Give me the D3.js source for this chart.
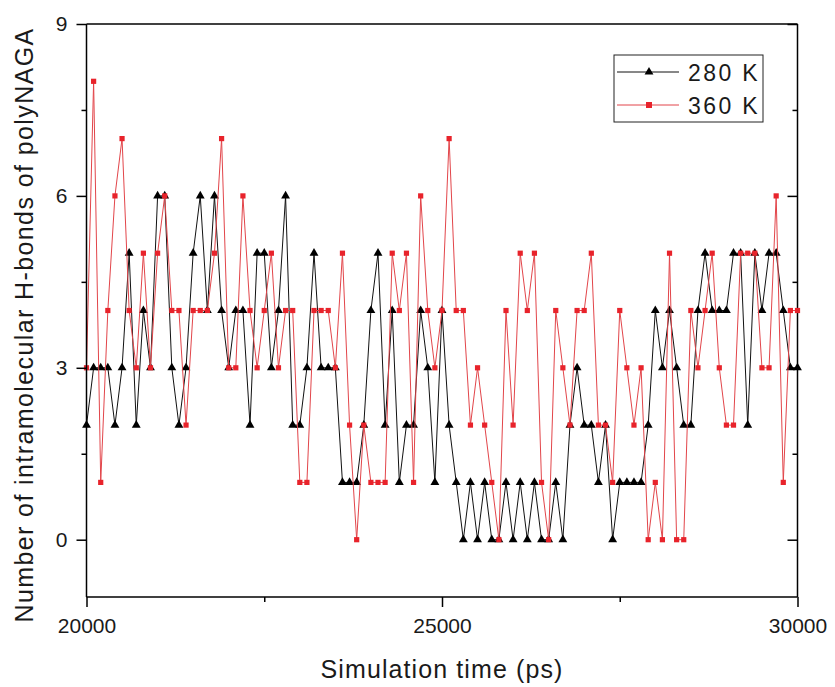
<!DOCTYPE html>
<html>
<head>
<meta charset="utf-8">
<script src="https://cdn.jsdelivr.net/npm/d3@7"></script>
<style>
  html, body { margin: 0; padding: 0; background: #fff; }
  svg { display: block; font-family: "Liberation Sans", Arial, sans-serif; }
  .axis path, .axis line { stroke: #000; stroke-width: 1.5; }
  .axis text { font-size: 21px; fill: #1a1a1a; font-family: "Liberation Sans", Arial, sans-serif; }
</style>
</head>
<body>
<svg id="chart" width="835" height="687"></svg>
<script>
// H-bond count vs simulation time, two temperatures, sampled every 100 ps.

const TIME_START = 20000;
const TIME_STEP = 100;

const SERIES_NAMES = ["280 K", "360 K"];

const HB_280 = [
  2, 3, 3, 3, 2, 3, 5, 2, 4, 3, 6, 6, 3, 2, 3, 5, 6, 4, 6, 4,
  3, 4, 4, 2, 5, 5, 3, 4, 6, 2, 2, 3, 5, 3, 3, 3, 1, 1, 1, 2,
  4, 5, 2, 4, 1, 2, 2, 4, 3, 1, 4, 2, 1, 0, 1, 0, 1, 0, 0, 1,
  0, 1, 0, 1, 0, 0, 1, 0, 2, 3, 2, 2, 1, 2, 0, 1, 1, 1, 1, 2,
  4, 3, 4, 3, 2, 2, 4, 5, 4, 4, 4, 5, 5, 2, 5, 4, 5, 5, 4, 3,
  3
];

const HB_360 = [
  3, 8, 1, 4, 6, 7, 4, 3, 5, 3, 5, 6, 4, 4, 2, 4, 4, 4, 5, 7,
  3, 3, 6, 4, 3, 4, 5, 3, 4, 4, 1, 1, 4, 4, 4, 3, 5, 2, 0, 2,
  1, 1, 1, 5, 4, 5, 1, 6, 4, 3, 4, 7, 4, 4, 2, 3, 2, 1, 0, 4,
  2, 5, 4, 5, 1, 0, 4, 3, 2, 4, 4, 5, 2, 2, 1, 4, 3, 2, 3, 0,
  1, 0, 5, 0, 0, 4, 3, 4, 5, 3, 2, 2, 5, 5, 5, 3, 3, 6, 1, 4,
  4
];

const X_TICKS = [20000, 25000, 30000];
const X_MINOR = [22500, 27500];
const Y_TICKS = [0, 3, 6, 9];
const Y_MINOR = [1.5, 4.5, 7.5];

const X_TITLE = "Simulation time (ps)";
const Y_TITLE = "Number of intramolecular H-bonds of polyNAGA";

const COLOR_280 = "#000000";
const COLOR_360 = "#e8232b";
const LINE_360 = "#e2454a";

const plot = { left: 86.5, right: 797.5, top: 24, bottom: 597 };

const svg = d3.select("#chart");

const x = d3.scaleLinear().domain([20000, 30000]).range([plot.left, plot.right]);
const y = d3.scaleLinear().domain([-1, 9]).range([plot.bottom, plot.top]);

const toPoints = vals => vals.map((v, i) => ({ t: TIME_START + i * TIME_STEP, v }));
const series = [
  { name: SERIES_NAMES[0], pts: toPoints(HB_280), color: COLOR_280, line: "#111", shape: "tri" },
  { name: SERIES_NAMES[1], pts: toPoints(HB_360), color: COLOR_360, line: LINE_360, shape: "sq" }
];

// frame (top + right)
svg.append("line")
  .attr("x1", plot.left).attr("x2", plot.right)
  .attr("y1", plot.top).attr("y2", plot.top)
  .attr("stroke", "#000").attr("stroke-width", 1.5);
svg.append("line")
  .attr("x1", plot.right).attr("x2", plot.right)
  .attr("y1", plot.top).attr("y2", plot.bottom)
  .attr("stroke", "#000").attr("stroke-width", 1.5);

// right axis ticks point inward
svg.append("g")
  .attr("class", "axis")
  .attr("transform", `translate(${plot.right},0)`)
  .call(d3.axisRight(y).tickValues(Y_TICKS).tickSize(-10).tickSizeOuter(0).tickFormat(""))
  .call(g => g.select(".domain").remove());
svg.append("g")
  .attr("class", "axis")
  .attr("transform", `translate(${plot.right},0)`)
  .call(d3.axisRight(y).tickValues(Y_MINOR).tickSize(-5).tickSizeOuter(0).tickFormat(""))
  .call(g => g.select(".domain").remove());

// series
const line = d3.line().x(d => x(d.t)).y(d => y(d.v));
const triangle = d3.symbol().type(d3.symbolTriangle).size(34);

series.forEach(s => {
  const g = svg.append("g");
  g.append("path")
    .datum(s.pts)
    .attr("d", line)
    .attr("fill", "none")
    .attr("stroke", s.line)
    .attr("stroke-width", 1);
  if (s.shape === "tri") {
    g.selectAll("path.m")
      .data(s.pts)
      .join("path")
        .attr("class", "m")
        .attr("d", triangle)
        .attr("transform", d => `translate(${x(d.t)},${y(d.v)})`)
        .attr("fill", s.color);
  } else {
    g.selectAll("rect.m")
      .data(s.pts)
      .join("rect")
        .attr("class", "m")
        .attr("x", d => x(d.t) - 2.6)
        .attr("y", d => y(d.v) - 2.6)
        .attr("width", 5.2)
        .attr("height", 5.2)
        .attr("fill", s.color);
  }
});

// left axis
svg.append("g")
  .attr("class", "axis")
  .attr("transform", `translate(${plot.left},0)`)
  .call(d3.axisLeft(y).tickValues(Y_TICKS).tickSize(10).tickPadding(9).tickSizeOuter(0))
  .call(g => g.select(".domain").attr("d", `M0,${plot.top}V${plot.bottom}`));
svg.append("g")
  .attr("class", "axis")
  .attr("transform", `translate(${plot.left},0)`)
  .call(d3.axisLeft(y).tickValues(Y_MINOR).tickSize(5).tickSizeOuter(0).tickFormat(""))
  .call(g => g.select(".domain").remove());

// bottom axis
svg.append("g")
  .attr("class", "axis")
  .attr("transform", `translate(0,${plot.bottom})`)
  .call(d3.axisBottom(x).tickValues(X_TICKS).tickSize(10).tickPadding(11).tickSizeOuter(0).tickFormat(d3.format("d")))
  .call(g => g.select(".domain").attr("d", `M${plot.left},0H${plot.right}`));
svg.append("g")
  .attr("class", "axis")
  .attr("transform", `translate(0,${plot.bottom})`)
  .call(d3.axisBottom(x).tickValues(X_MINOR).tickSize(5).tickSizeOuter(0).tickFormat(""))
  .call(g => g.select(".domain").remove());

// axis titles
svg.append("text")
  .attr("x", (plot.left + plot.right) / 2)
  .attr("y", 678)
  .attr("text-anchor", "middle")
  .style("font-size", "25px")
  .style("letter-spacing", "1.1px")
  .attr("fill", "#1a1a1a")
  .text(X_TITLE);

svg.append("text")
  .attr("transform", "translate(33,325) rotate(-90)")
  .attr("text-anchor", "middle")
  .style("font-size", "25px")
  .style("letter-spacing", "1.4px")
  .attr("fill", "#1a1a1a")
  .text(Y_TITLE);

// legend
const legend = svg.append("g");
legend.append("rect")
  .attr("x", 614).attr("y", 55)
  .attr("width", 149).attr("height", 67)
  .attr("fill", "#fff")
  .attr("stroke", "#222")
  .attr("stroke-width", 1);

series.forEach((s, i) => {
  const cy = 72 + i * 33;
  const row = legend.append("g");
  row.append("line")
    .attr("x1", 617).attr("x2", 679)
    .attr("y1", cy).attr("y2", cy)
    .attr("stroke", s.line).attr("stroke-width", 1);
  if (s.shape === "tri") {
    row.append("path")
      .attr("d", triangle)
      .attr("transform", `translate(649,${cy})`)
      .attr("fill", s.color);
  } else {
    row.append("rect")
      .attr("x", 649 - 3).attr("y", cy - 3)
      .attr("width", 6).attr("height", 6)
      .attr("fill", s.color);
  }
  row.append("text")
    .attr("x", 688)
    .attr("y", cy + 8.5)
    .style("font-size", "23px")
    .style("letter-spacing", "2.4px")
    .attr("fill", "#1a1a1a")
    .text(s.name);
});
</script>
</body>
</html>
